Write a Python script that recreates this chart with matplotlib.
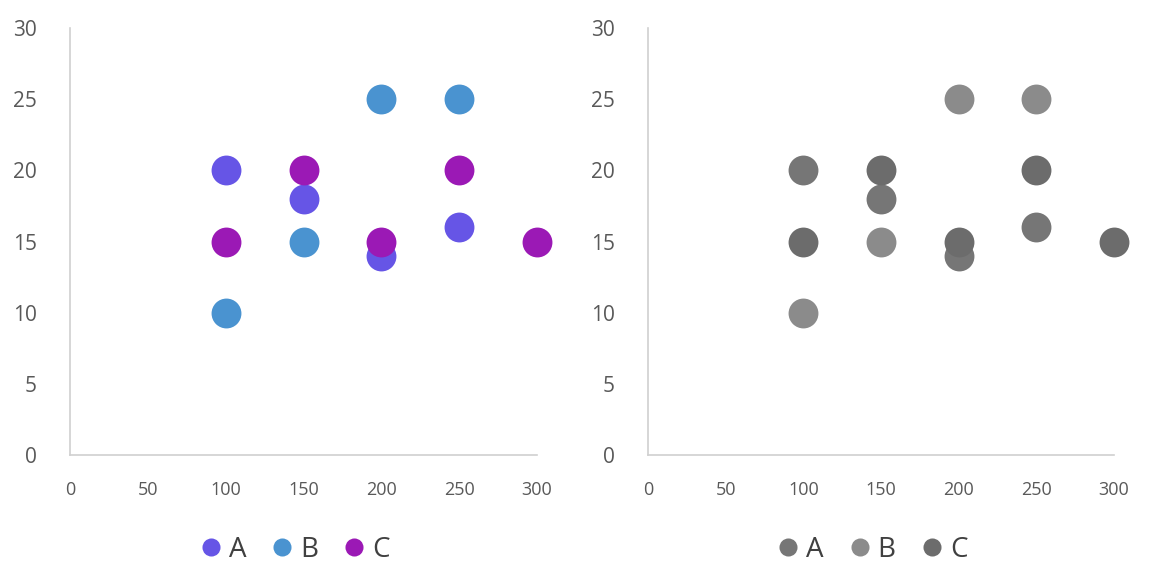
import matplotlib
matplotlib.use("Agg")
import matplotlib.pyplot as plt

plt.rcParams['font.family'] = ['Open Sans', 'DejaVu Sans']

series = ["A", "B", "C"]
a_x = [100, 150, 200, 250]
a_y = [20, 18, 14, 16]
b_x = [100, 150, 200, 250]
b_y = [10, 15, 25, 25]
c_x = [100, 150, 200, 250, 300]
c_y = [15, 20, 15, 20, 15]
xticks = [0, 50, 100, 150, 200, 250, 300]
yticks = [0, 5, 10, 15, 20, 25, 30]

data = [(a_x, a_y), (b_x, b_y), (c_x, c_y)]
colors_left = ["#6655e6", "#4a93d0", "#9b19b5"]
colors_right = ["#767676", "#8b8b8b", "#6c6c6c"]

fig = plt.figure(figsize=(11.56, 5.86), dpi=100)
axes = [fig.add_axes([0.0606, 0.2235, 0.404, 0.7287]),
        fig.add_axes([0.5606, 0.2235, 0.403, 0.7287])]

for ax, cols in zip(axes, [colors_left, colors_right]):
    handles = []
    for (xs, ys), col, name in zip(data, cols, series):
        ax.plot(xs, ys, linestyle='none', marker='o', markersize=21.5,
                markerfacecolor=col, markeredgecolor='none', clip_on=False)
        h, = ax.plot([], [], linestyle='none', marker='o', markersize=13,
                     markerfacecolor=col, markeredgecolor='none', label=name)
        handles.append(h)
    ax.set_xlim(0, 300)
    ax.set_ylim(0, 30)
    ax.set_xticks(xticks)
    ax.set_yticks(yticks)
    for s in ['top', 'right']:
        ax.spines[s].set_visible(False)
    for s in ['left', 'bottom']:
        ax.spines[s].set_color('#d0d0d0')
        ax.spines[s].set_linewidth(1.2)
    ax.tick_params(axis='both', length=0, colors='#595959')
    ax.tick_params(axis='x', labelsize=13, pad=19)
    ax.tick_params(axis='y', labelsize=15, pad=24)
    ax.legend(handles=handles, loc='upper center', bbox_to_anchor=(0.475, -0.13),
              ncol=3, frameon=False, fontsize=20, handletextpad=0.05,
              columnspacing=0.7, handlelength=1.2, labelcolor='#404040')

fig.savefig("out.png", dpi=100)
